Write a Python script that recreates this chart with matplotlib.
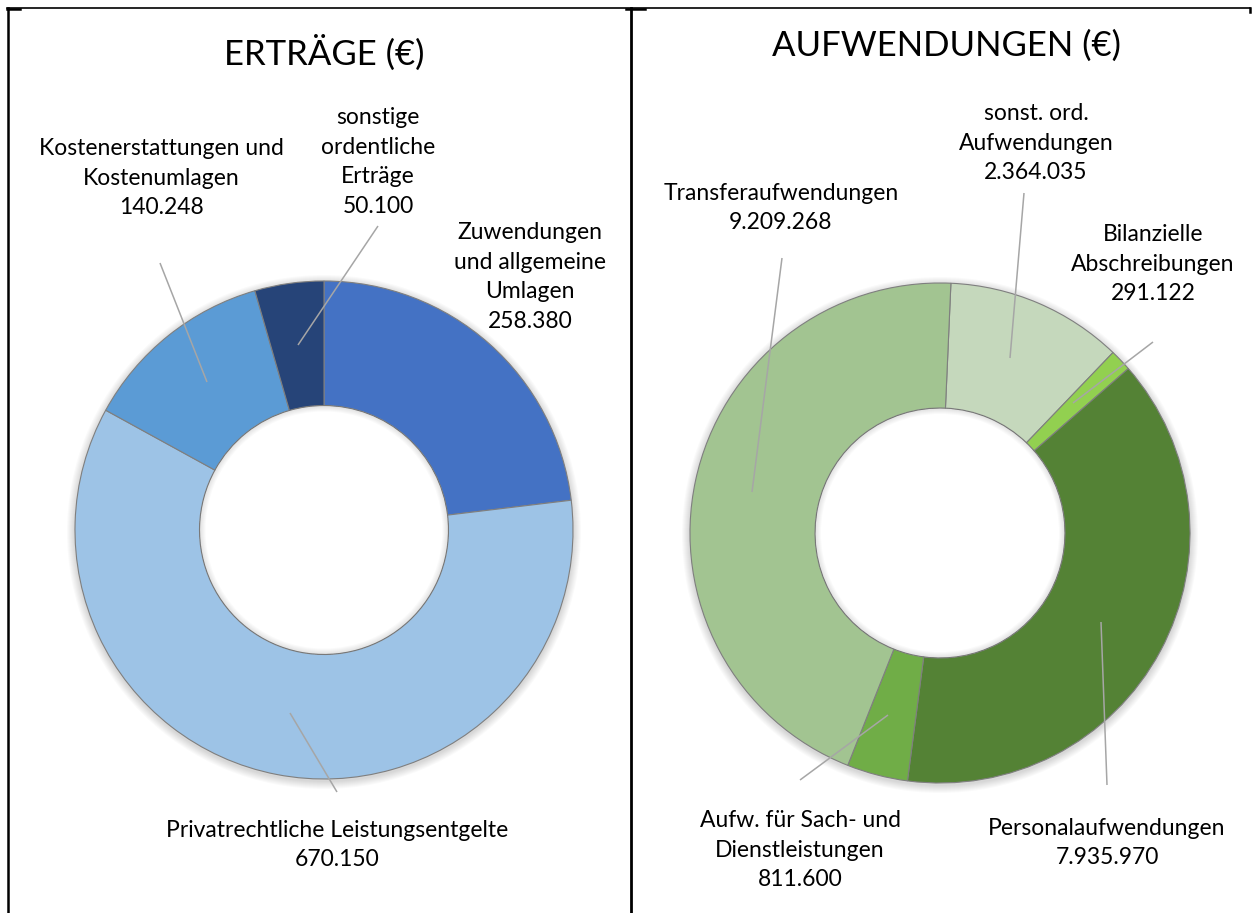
import matplotlib
matplotlib.use("Agg")
import matplotlib.pyplot as plt
from matplotlib.patches import Wedge

# ---------------- data ----------------
ertraege_labels = ["Zuwendungen\nund allgemeine\nUmlagen",
                   "Privatrechtliche Leistungsentgelte",
                   "Kostenerstattungen und\nKostenumlagen",
                   "sonstige\nordentliche\nErträge"]
ertraege_values = [258380, 670150, 140248, 50100]
ertraege_colors = ["#4472C4", "#9DC3E6", "#5B9BD5", "#264478"]

aufw_labels = ["sonst. ord.\nAufwendungen",
               "Bilanzielle\nAbschreibungen",
               "Personalaufwendungen",
               "Aufw. für Sach- und\nDienstleistungen",
               "Transferaufwendungen"]
aufw_values = [2364035, 291122, 7935970, 811600, 9209268]
aufw_colors = ["#C5D8BC", "#92D050", "#548235", "#70AD47", "#A2C491"]

titles = ["ERTRÄGE (€)", "AUFWENDUNGEN (€)"]

W, H = 1252, 913
FONT = ["Lato", "DejaVu Sans"]


def fmt(v):
    return f"{v:,}".replace(",", ".")


def Y(y):  # pixel (from top) -> data y (from bottom)
    return H - y


fig = plt.figure(figsize=(W / 100, H / 100), dpi=100)
ax = fig.add_axes([0, 0, 1, 1])


def shadow(ax, cx, cy, r, rin):
    # soft outer shadow (annuli so the hole stays white)
    for d in range(1, 9):
        ax.add_patch(Wedge((cx, cy - 2), r + d, 0, 360, width=d + 3,
                           facecolor="black", edgecolor="none",
                           alpha=0.02, zorder=0))
    # soft inner shadow inside the hole
    for d in range(1, 7):
        ax.add_patch(Wedge((cx, cy), rin, 0, 360, width=d,
                           facecolor="black", edgecolor="none",
                           alpha=0.018, zorder=3))


def donut(ax, values, colors, cx, cy, r, start):
    cy = Y(cy)
    shadow(ax, cx, cy, r, r * 0.5)
    wedges, _ = ax.pie(values, colors=colors, center=(cx, cy), radius=r,
                       startangle=start, counterclock=False, frame=True,
                       wedgeprops=dict(width=r * 0.5, edgecolor="#7F7F7F",
                                       linewidth=0.8))
    for w in wedges:
        w.set_zorder(2)


donut(ax, ertraege_values, ertraege_colors, 324, 530, 249, 90)
donut(ax, aufw_values, aufw_colors, 940, 533, 250, 87.5)

ax.set_xlim(0, W)
ax.set_ylim(0, H)
ax.set_aspect("equal")
ax.axis("off")

# titles
ax.text(324, Y(53), titles[0], ha="center", va="center", fontsize=25,
        family=FONT, color="#000000")
ax.text(947, Y(46), titles[1], ha="center", va="center", fontsize=25,
        family=FONT, color="#000000")

# labels: (index, x, y_center)
left_pos = [(0, 530, 277), (1, 337, 845), (2, 161, 178), (3, 378, 162)]
right_pos = [(0, 1036, 143), (1, 1153, 264), (2, 1107, 843),
             (3, 800, 850), (4, 781, 208)]

for i, x, y in left_pos:
    ax.text(x, Y(y), ertraege_labels[i] + "\n" + fmt(ertraege_values[i]),
            ha="center", va="center", fontsize=16.5, family=FONT,
            linespacing=1.5, multialignment="center")
for i, x, y in right_pos:
    ax.text(x, Y(y), aufw_labels[i] + "\n" + fmt(aufw_values[i]),
            ha="center", va="center", fontsize=16.5, family=FONT,
            linespacing=1.5, multialignment="center")

# leader lines (pixel coords)
leaders = [((160, 263), (207, 382)), ((378, 226), (298, 345)),
           ((290, 713), (337, 792)),
           ((1024, 193), (1010, 358)), ((782, 258), (752, 492)),
           ((1153, 342), (1073, 403)), ((1107, 785), (1101, 622)),
           ((800, 780), (888, 715))]
for (x0, y0), (x1, y1) in leaders:
    ax.plot([x0, x1], [Y(y0), Y(y1)], color="#A6A6A6", lw=1.1, zorder=5,
            solid_capstyle="butt")

# table borders
ax.plot([7, 1250], [Y(8), Y(8)], color="black", lw=1.2, zorder=6)
ax.plot([8, 8], [Y(8), 0], color="black", lw=1.8, zorder=6)
ax.plot([631, 631], [Y(8), 0], color="black", lw=2.0, zorder=6)
ax.plot([7, 20], [Y(9), Y(9)], color="black", lw=1.8, zorder=6)
ax.plot([626, 645], [Y(9), Y(9)], color="black", lw=1.8, zorder=6)
ax.plot([1250, 1250], [Y(8), Y(12)], color="black", lw=1.8, zorder=6)

fig.savefig("out.png", dpi=100, facecolor="white")
